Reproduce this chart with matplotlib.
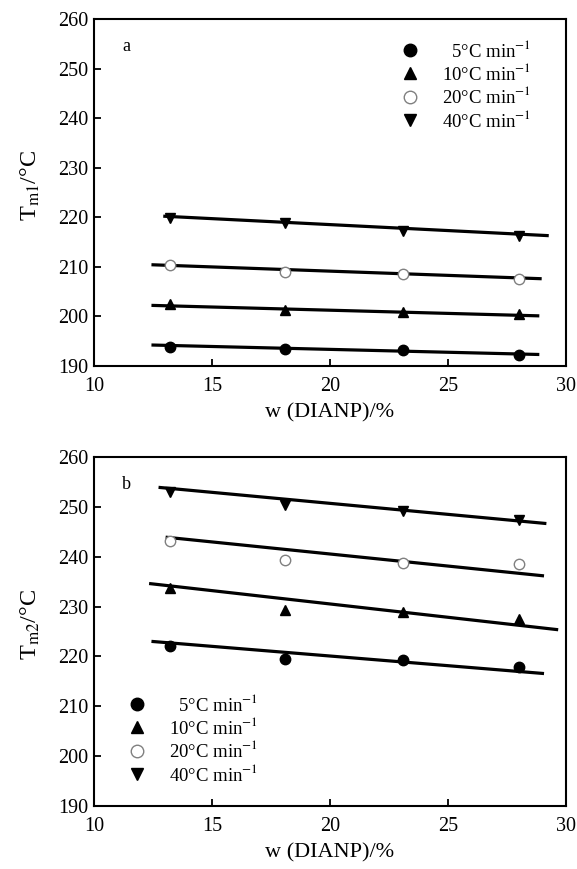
import matplotlib
matplotlib.use("Agg")
import matplotlib.pyplot as plt

plt.rcParams['font.family'] = ['Liberation Serif', 'DejaVu Serif']
plt.rcParams['mathtext.fontset'] = 'stix'

# composition, w(DIANP) in %
w = [13.2, 18.1, 23.1, 28.0]
rates = ['5', '10', '20', '40']

# panel a: Tm1 (°C) at each heating rate
tm1_5 = [193.9, 193.4, 193.1, 192.2]
tm1_10 = [202.5, 201.3, 200.8, 200.5]
tm1_20 = [210.4, 209.0, 208.6, 207.6]
tm1_40 = [219.8, 218.9, 217.2, 216.3]

# panel b: Tm2 (°C)
tm2_5 = [222.0, 219.5, 219.2, 217.9]
tm2_10 = [233.8, 229.4, 229.0, 227.5]
tm2_20 = [243.2, 239.3, 238.7, 238.5]
tm2_40 = [253.0, 250.3, 249.2, 247.3]

# fitted lines: (x start, x end), (y start, y end)
fit1_x = [(12.5, 28.8), (12.5, 28.8), (12.5, 28.9), (13.0, 29.2)]
fit1_y = [(194.2, 192.3), (202.2, 200.1), (210.4, 207.6), (220.2, 216.3)]
fit2_x = [(12.5, 29.0), (12.4, 29.6), (13.1, 29.0), (12.8, 29.1)]
fit2_y = [(223.0, 216.6), (234.6, 225.4), (243.9, 236.2), (253.9, 246.7)]

styles = [dict(marker='o', mfc='black', mec='black', ms=7.5),
          dict(marker='^', mfc='black', mec='black', ms=7),
          dict(marker='o', mfc='white', mec='gray', ms=7.5),
          dict(marker='v', mfc='black', mec='black', ms=7)]

fig = plt.figure(figsize=(5.77, 8.69), dpi=100)
ax1 = fig.add_axes([0.163, 0.579, 0.818, 0.399])
ax2 = fig.add_axes([0.163, 0.0725, 0.818, 0.4015])


def draw(ax, series, fx, fy, ylab, tag, legloc, anchor):
    for i, ys in enumerate(series):
        st = styles[i]
        ax.plot(fx[i], fy[i], color='black', lw=2.3, zorder=2)
        lab = ('  ' if rates[i] == '5' else '') + rates[i] + '°C min$^{-1}$'
        ax.plot(w, ys, ls='none', marker=st['marker'], ms=st['ms'],
                mfc=st['mfc'], mec=st['mec'], mew=1.0, label=lab, zorder=3)
    ax.set_xlim(10, 30)
    ax.set_ylim(190, 260)
    ax.set_xticks([10, 15, 20, 25, 30])
    ax.set_yticks(range(190, 261, 10))
    ax.tick_params(direction='in', length=5, width=1.3, labelsize=14.5,
                   top=False, right=False)
    ax.tick_params(axis='x', pad=8)
    ax.tick_params(axis='y', pad=4)
    for s in ax.spines.values():
        s.set_linewidth(1.5)
    ax.set_xlabel('w (DIANP)/%', fontsize=16, labelpad=5)
    ax.set_ylabel(ylab, fontsize=17.5)
    ax.yaxis.set_label_coords(-0.11, 0.52)
    ax.text(0.06, 0.945, tag, transform=ax.transAxes, fontsize=13,
            ha='left', va='top')
    leg = ax.legend(loc=legloc, bbox_to_anchor=anchor, frameon=False,
                    fontsize=13.5, handletextpad=1.2, labelspacing=0.12,
                    handlelength=1.0, borderaxespad=0.0, markerscale=1.2)
    return leg


draw(ax1, [tm1_5, tm1_10, tm1_20, tm1_40], fit1_x, fit1_y,
     'T$_{\\mathrm{m1}}$/°C', 'a', 'upper left', (0.634, 0.962))
draw(ax2, [tm2_5, tm2_10, tm2_20, tm2_40], fit2_x, fit2_y,
     'T$_{\\mathrm{m2}}$/°C', 'b', 'lower left', (0.055, 0.04))

fig.savefig('out.png', dpi=100)
